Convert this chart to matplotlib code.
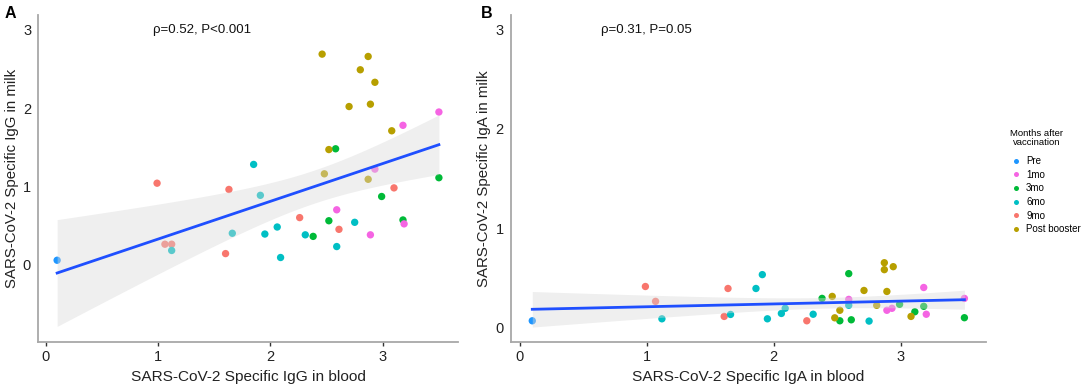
import numpy as np
import matplotlib
matplotlib.use("Agg")
import matplotlib.pyplot as plt
from matplotlib.lines import Line2D

plt.rcParams["font.family"] = ["Liberation Sans", "DejaVu Sans"]

GROUPS = ["Pre", "1mo", "3mo", "6mo", "9mo", "Post booster"]
COLORS = {
    "Pre": "#1E96FF",
    "1mo": "#F564E3",
    "3mo": "#00BA38",
    "6mo": "#00BFC4",
    "9mo": "#F8766D",
    "Post booster": "#B79F00",
}

# panel A: IgG blood vs milk
igg_group = (["Pre"] + ["9mo"] * 8 + ["6mo"] * 10 + ["3mo"] * 6
             + ["1mo"] * 6 + ["Post booster"] * 10)
igg_blood = [0.10,
             0.99, 1.06, 1.12, 1.63, 1.60, 2.26, 2.61, 3.10,
             1.12, 1.66, 1.85, 1.91, 1.95, 2.06, 2.09, 2.31, 2.59, 2.75,
             2.38, 2.52, 2.58, 2.99, 3.18, 3.50,
             2.59, 2.89, 2.93, 3.18, 3.19, 3.50,
             2.46, 2.48, 2.52, 2.70, 2.80, 2.87, 2.87, 2.89, 2.93, 3.08]
igg_milk = [0.055,
            1.04, 0.26, 0.26, 0.96, 0.14, 0.60, 0.45, 0.98,
            0.18, 0.40, 1.28, 0.885, 0.39, 0.48, 0.09, 0.38, 0.23, 0.54,
            0.36, 0.56, 1.48, 0.87, 0.57, 1.11,
            0.70, 0.38, 1.22, 1.78, 0.52, 1.95,
            2.69, 1.16, 1.47, 2.02, 2.49, 2.66, 1.09, 2.05, 2.33, 1.71]

# panel B: IgA blood vs milk
iga_group = (["Pre"] + ["9mo"] * 5 + ["6mo"] * 10 + ["3mo"] * 8
             + ["1mo"] * 6 + ["Post booster"] * 10)
iga_blood = [0.10,
             0.99, 1.07, 1.64, 1.61, 2.26,
             1.12, 1.66, 1.86, 1.91, 1.95, 2.06, 2.09, 2.31, 2.59, 2.75,
             2.38, 2.52, 2.59, 2.61, 2.99, 3.11, 3.18, 3.50,
             2.59, 2.89, 2.93, 3.18, 3.20, 3.50,
             2.46, 2.48, 2.52, 2.71, 2.81, 2.87, 2.87, 2.89, 2.94, 3.08]
iga_milk = [0.064,
            0.41, 0.26, 0.39, 0.108, 0.064,
            0.084, 0.128, 0.39, 0.53, 0.084, 0.138, 0.19, 0.13, 0.22, 0.061,
            0.29, 0.064, 0.54, 0.074, 0.23, 0.155, 0.21, 0.095,
            0.28, 0.17, 0.19, 0.40, 0.13, 0.29,
            0.31, 0.094, 0.17, 0.37, 0.22, 0.65, 0.58, 0.36, 0.61, 0.108]

T975 = 2.02  # t quantile, df ~ 39


def lm_band(x, y, n_pts=80):
    x = np.asarray(x)
    y = np.asarray(y)
    b, a = np.polyfit(x, y, 1)
    xs = np.linspace(x.min(), x.max(), n_pts)
    fit = a + b * xs
    resid = y - (a + b * x)
    s = np.sqrt(np.sum(resid ** 2) / (len(x) - 2))
    se = s * np.sqrt(1 / len(x) + (xs - x.mean()) ** 2 / np.sum((x - x.mean()) ** 2))
    return xs, fit, fit - T975 * se, fit + T975 * se


def panel(ax, x, y, groups, ylim, xlabel, ylabel, note, note_x):
    cols = [COLORS[g] for g in groups]
    ax.scatter(x, y, c=cols, s=28, linewidths=0, zorder=2)
    xs, fit, lo, hi = lm_band(x, y)
    ax.fill_between(xs, lo, hi, color="#D9D9D9", alpha=0.42, linewidth=0, zorder=3)
    ax.plot(xs, fit, color="#1F4FFF", lw=2.0, zorder=4)
    ax.set_xlim(-0.07, 3.67)
    ax.set_ylim(*ylim)
    ax.set_xticks([0, 1, 2, 3])
    ax.set_yticks([0, 1, 2, 3])
    for side in ("top", "right"):
        ax.spines[side].set_visible(False)
    for side in ("left", "bottom"):
        ax.spines[side].set_color("#A8A8A8")
        ax.spines[side].set_linewidth(1.3)
    ax.tick_params(axis="x", length=3, width=1, color="#333333", labelsize=10.5,
                   labelcolor="#222222", pad=3)
    ax.tick_params(axis="y", length=0, labelsize=10.5, labelcolor="#222222", pad=5)
    ax.set_xlabel(xlabel, fontsize=11.1, color="#222222", labelpad=4)
    ax.set_ylabel(ylabel, fontsize=10.8, color="#222222", labelpad=3)
    ax.text(note_x, 3.0, note, ha="center", va="center", fontsize=9.5, color="#111111")


fig = plt.figure(figsize=(10.84, 3.87), dpi=100)
axA = fig.add_axes([0.0351, 0.1163, 0.3874, 0.8449])
axB = fig.add_axes([0.4711, 0.1163, 0.4385, 0.8449])

panel(axA, igg_blood, igg_milk, igg_group, (-0.99, 3.19),
      "SARS-CoV-2 Specific IgG in blood", "SARS-CoV-2 Specific IgG in milk",
      "\u03c1=0.52, P<0.001", 1.39)
panel(axB, iga_blood, iga_milk, iga_group, (-0.15, 3.15),
      "SARS-CoV-2 Specific IgA in blood", "SARS-CoV-2 Specific IgA in milk",
      "\u03c1=0.31, P=0.05", 1.0)

fig.text(5 / 1084, 1 - 6 / 387, "A", fontsize=11.5, fontweight="bold", va="top", ha="left")
fig.text(481 / 1084, 1 - 6 / 387, "B", fontsize=11.5, fontweight="bold", va="top", ha="left")

# legend: title placed by hand so it centres like the original
fig.text(1037 / 1084, 1 - 138 / 387, "Months after\nvaccination", ha="center", va="center",
         fontsize=6.8, multialignment="center", linespacing=1.05)
handles = [Line2D([], [], ls="none", marker="o", markersize=3.6, color=COLORS[g],
                  markeredgewidth=0) for g in GROUPS]
fig.legend(handles, GROUPS, loc="upper left", bbox_to_anchor=(1011 / 1084, 1 - 156 / 387),
           frameon=False, fontsize=7.0, handlelength=1.0, handletextpad=0.55,
           labelspacing=0.38, borderpad=0.0, borderaxespad=0.0)

fig.savefig("out.png", dpi=100)
